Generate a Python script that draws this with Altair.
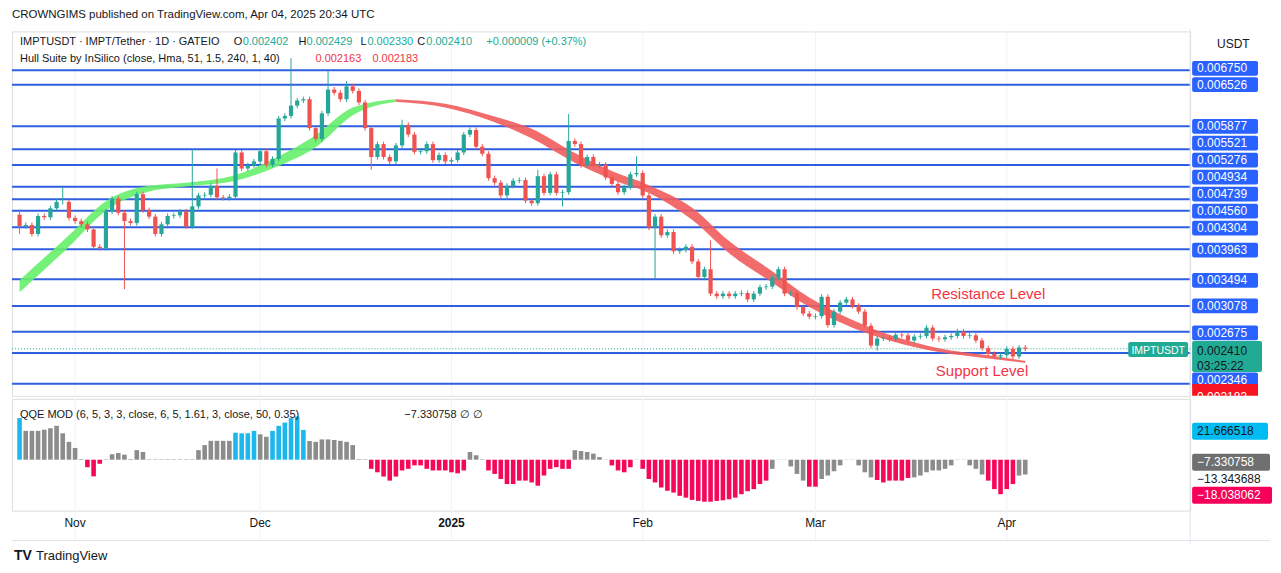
import pandas as pd
import altair as alt

FONT = "Liberation Sans"

# ---- daily candles, IMPTUSDT 1D (Oct 23 2024 -> Apr 4 2025)
dates = pd.date_range("2024-10-23", periods=164, freq="D")
first_open = 0.00450
closes = [
    0.00432, 0.00434, 0.00420, 0.00448, 0.00446, 0.00460, 0.00470, 0.00470, 0.00445, 0.00440,
    0.00435, 0.00427, 0.00400, 0.00398, 0.00455, 0.00475, 0.00453, 0.00440, 0.00437, 0.00482,
    0.00457, 0.00447, 0.00420, 0.00435, 0.00448, 0.00449, 0.00455, 0.00432, 0.00463, 0.00480,
    0.00481, 0.00495, 0.00477, 0.00476, 0.00478, 0.00547, 0.00522, 0.00527, 0.00533, 0.00549,
    0.00528, 0.00537, 0.00600, 0.00604, 0.00620, 0.00628, 0.00630, 0.00585, 0.00568, 0.00608,
    0.00645, 0.00640, 0.00630, 0.00650, 0.00643, 0.00625, 0.00585, 0.00540, 0.00560, 0.00540,
    0.00533, 0.00558, 0.00590, 0.00575, 0.00548, 0.00549, 0.00560, 0.00535, 0.00543, 0.00533,
    0.00535, 0.00547, 0.00575, 0.00582, 0.00556, 0.00545, 0.00507, 0.00500, 0.00480, 0.00495,
    0.00503, 0.00504, 0.00472, 0.00468, 0.00510, 0.00484, 0.00513, 0.00484, 0.00485, 0.00565,
    0.00560, 0.00527, 0.00540, 0.00527, 0.00528, 0.00508, 0.00498, 0.00485, 0.00493, 0.00513,
    0.00515, 0.00480, 0.00430, 0.00447, 0.00418, 0.00423, 0.00393, 0.00395, 0.00400, 0.00377,
    0.00353, 0.00365, 0.00327, 0.00323, 0.00327, 0.00323, 0.00327, 0.00328, 0.00318, 0.00327,
    0.00337, 0.00338, 0.00352, 0.00365, 0.00327, 0.00328, 0.00306, 0.00296, 0.00291, 0.00292,
    0.00322, 0.00278, 0.00299, 0.00313, 0.00318, 0.00308, 0.00299, 0.00277, 0.00246, 0.00257,
    0.00258, 0.00256, 0.00263, 0.00262, 0.00254, 0.00260, 0.00261, 0.00274, 0.00257, 0.00256,
    0.00259, 0.00261, 0.00268, 0.00261, 0.00262, 0.00254, 0.00242, 0.00233, 0.00229, 0.00231,
    0.00241, 0.00229, 0.00243, 0.00241,
]
# long wicks (candle index -> price)
wick_high = {0: 0.00458, 7: 0.00493, 28: 0.00552, 32: 0.00522, 44: 0.00694, 50: 0.00674,
             53: 0.00658, 89: 0.00607, 100: 0.00541, 112: 0.00410, 62: 0.00598, 84: 0.00520}
wick_low = {0: 0.00420, 17: 0.00334, 88: 0.00463, 103: 0.00350, 57: 0.00520, 139: 0.00238}
WICK = 0.00004

# ---- Hull Suite band (candle index, upper, lower)
hull_idx = [0, 8, 14, 21, 27, 35, 42, 48, 54, 61, 69, 77, 83, 90, 96, 102, 109, 115, 122, 128, 135, 141, 149, 157, 163]
hull_hi = [0.00348, 0.00418, 0.00471, 0.00495, 0.00500, 0.00512, 0.00541, 0.00574, 0.00617, 0.00630,
           0.00623, 0.00603, 0.00584, 0.00546, 0.00518, 0.00496, 0.00461, 0.00409, 0.00362, 0.00321,
           0.00286, 0.00263, 0.00242, 0.00231, 0.00222]
hull_lo = [0.00329, 0.00400, 0.00456, 0.00486, 0.00494, 0.00503, 0.00526, 0.00555, 0.00605, 0.00626,
           0.00617, 0.00594, 0.00569, 0.00531, 0.00505, 0.00484, 0.00442, 0.00390, 0.00344, 0.00306,
           0.00274, 0.00254, 0.00236, 0.00226, 0.00219]
hull_turn = 61

# ---- horizontal levels drawn by the author
level_prices = [0.006750, 0.006526, 0.005877, 0.005521, 0.005276, 0.004934, 0.004739, 0.004560,
                0.004304, 0.003963, 0.003494, 0.003078, 0.002675, 0.002346, 0.001864]
label_texts = ["0.006750", "0.006526", "0.005877", "0.005521", "0.005276", "0.004934", "0.004739",
               "0.004560", "0.004304", "0.003963", "0.003494", "0.003078", "0.002675", "0.002346"]
label_pos = [0.006780, 0.006526, 0.005877, 0.005614, 0.005349, 0.005085, 0.004820, 0.004556,
             0.004291, 0.003947, 0.003478, 0.003078, 0.002659, 0.001926]
last_price = 0.002410

# ---- QQE MOD histogram
qqe = [
    20.5, 14.2, 14.2, 14.2, 14.7, 15.5, 16.7, 13.0, 8.8, 5.8,
    0.3, -3.7, -8.2, -2.0, 0.2, 2.7, 3.3, 2.5, 0.3, 4.7,
    3.8, 0.2, 0.2, 0.2, 0.2, 0.2, 0.2, 0.2, 0.2, 4.7,
    7.2, 9.3, 9.3, 9.3, 9.3, 13.3, 13.0, 13.0, 14.2, 12.5,
    11.3, 14.2, 16.7, 18.3, 20.5, 21.3, 14.7, 9.2, 8.8, 10.0,
    10.0, 9.7, 9.3, 8.8, 7.2, 0.3, 0.2, -4.5, -6.2, -8.3,
    -10.3, -8.3, -5.3, -4.5, -2.8, -2.8, -4.5, -5.3, -5.3, -5.3,
    -6.2, -6.7, -5.3, 3.8, 2.2, 0.2, -5.3, -7.0, -9.5, -12.0,
    -12.0, -10.3, -10.3, -11.2, -12.8, -7.8, -4.5, -3.7, -4.5, -4.5,
    4.7, 4.3, 3.8, 3.0, 1.3, 0.1, -2.8, -5.3, -6.2, -3.7,
    0.1, -4.5, -9.5, -11.2, -13.7, -15.3, -16.2, -17.8, -18.7, -19.8,
    -20.3, -20.7, -20.7, -20.3, -20.0, -19.5, -18.7, -17.0, -15.5, -14.5,
    -12.0, -10.3, -4.5, 0.1, 0.1, -3.3, -7.0, -10.3, -13.3, -13.3,
    -9.5, -7.8, -5.7, -2.8, 0.1, 0.1, -2.8, -6.2, -8.7, -10.0,
    -11.2, -10.3, -10.3, -10.3, -9.0, -8.7, -7.8, -6.2, -5.3, -5.3,
    -4.5, -2.8, 0.1, 0.1, -2.8, -4.5, -7.3, -10.3, -14.5, -17.0,
    -14.5, -12.0, -7.8, -7.3,
]
qqe_blue = [0] + list(range(35, 39)) + list(range(41, 47))
qqe_red = (list(range(11, 14)) + list(range(57, 73)) + list(range(76, 90)) + list(range(96, 100))
           + list(range(101, 122)) + [128, 129] + list(range(139, 145)) + list(range(157, 162)))

month_ticks = ["2024-11-01", "2024-12-01", "2025-01-01", "2025-02-01", "2025-03-01", "2025-04-01"]
month_names = ["Nov", "Dec", "2025", "Feb", "Mar", "Apr"]

W, H, QH = 1180, 365, 112
PMIN, PMAX = 0.001677, 0.007357

# ---------------- build tables
opens = [first_open] + closes[:-1]
candles = pd.DataFrame({"date": dates, "open": opens, "close": closes})
candles["high"] = [wick_high.get(i, max(o, c) + WICK) for i, (o, c) in enumerate(zip(opens, closes))]
candles["low"] = [wick_low.get(i, min(o, c) - WICK) for i, (o, c) in enumerate(zip(opens, closes))]
candles["kind"] = ["up" if c >= o else "down" for o, c in zip(opens, closes)]

hull = pd.DataFrame({"date": dates[hull_idx], "hi": hull_hi, "lo": hull_lo, "i": hull_idx})
hull_green = hull[hull["i"] <= hull_turn]
hull_red = hull[hull["i"] >= hull_turn]

levels = pd.DataFrame({"price": level_prices})
labels = pd.DataFrame({"text": label_texts, "pos": label_pos})
labels["lo"] = labels["pos"] - 0.000115
labels["hi"] = labels["pos"] + 0.000115

q = pd.DataFrame({"date": dates, "v": qqe})
q["zero"] = 0.0
q["kind"] = ["b" if i in qqe_blue else ("r" if i in qqe_red else "g") for i in range(len(q))]

months = pd.DataFrame({"date": pd.to_datetime(month_ticks), "name": month_names})

xscale = alt.Scale(domain=[alt.DateTime(year=2024, month=10, date=22, hours=14),
                           alt.DateTime(year=2025, month=4, date=29, hours=22)])
yscale = alt.Scale(domain=[PMIN, PMAX], nice=False, zero=False)
X = alt.X("date:T", scale=xscale, axis=None)
one = alt.Data(values=[{}])
COL = alt.Color("kind:N", legend=None, scale=alt.Scale(
    domain=["up", "down", "b", "g", "r"], range=["#26a69a", "#ef5350", "#1bb8ee", "#8c8c8c", "#f5085a"]))


def txt(s, x, y, color="#131722", size=12, weight="normal", align="left"):
    return alt.Chart(one).mark_text(text=s, align=align, baseline="middle", font=FONT, fontSize=size,
                                    fontWeight=weight, color=color).encode(x=alt.value(x), y=alt.value(y))


def box(x1, x2, y1, y2, color):
    return alt.Chart(one).mark_rect(color=color, cornerRadius=2).encode(
        x=alt.value(x1), x2=alt.value(x2), y=alt.value(y1), y2=alt.value(y2))


# ---------------- price pane
grid_v = alt.Chart(months).mark_rule(color="#f0f3fa").encode(x=X)
lvl = alt.Chart(levels).mark_rule(color="#2f5fe0", strokeWidth=2).encode(
    y=alt.Y("price:Q", scale=yscale, axis=None), x=alt.value(0), x2=alt.value(W))
cur = alt.Chart(one).mark_rule(color="#22ab94", strokeDash=[1, 2]).encode(
    y=alt.datum(last_price, scale=yscale), x=alt.value(0), x2=alt.value(W))
hg = alt.Chart(hull_green).mark_area(color="#66f06b", opacity=0.9, interpolate="monotone").encode(
    x=X, y=alt.Y("hi:Q", scale=yscale), y2="lo:Q")
hr = alt.Chart(hull_red).mark_area(color="#f25c5c", opacity=0.9, interpolate="monotone").encode(
    x=X, y=alt.Y("hi:Q", scale=yscale), y2="lo:Q")
wicks = alt.Chart(candles).mark_rule(strokeWidth=1).encode(
    x=X, y=alt.Y("low:Q", scale=yscale), y2="high:Q", color=COL)
bodies = alt.Chart(candles).mark_bar(size=4.2).encode(
    x=X, y=alt.Y("open:Q", scale=yscale), y2="close:Q", color=COL)

ann = pd.DataFrame({"date": pd.to_datetime(["2025-03-29", "2025-03-28"]),
                    "price": [0.00327, 0.00206], "text": ["Resistance Level", "Support Level"]})
annot = alt.Chart(ann).mark_text(font=FONT, fontSize=15, color="#f23645").encode(
    x=X, y=alt.Y("price:Q", scale=yscale), text="text:N")

lab_box = alt.Chart(labels).mark_rect(color="#2962ff", cornerRadius=2).encode(
    y=alt.Y("lo:Q", scale=yscale), y2="hi:Q", x=alt.value(W + 2), x2=alt.value(W + 68))
lab_txt = alt.Chart(labels).mark_text(font=FONT, fontSize=12, color="white", align="left").encode(
    y=alt.Y("pos:Q", scale=yscale), x=alt.value(W + 7), text="text:N")

cur_box = alt.Chart(one).mark_rect(color="#22ab94", cornerRadius=2).encode(
    y=alt.datum(0.002533, scale=yscale), y2=alt.datum(0.002050), x=alt.value(W + 2), x2=alt.value(W + 72))
sym_box = alt.Chart(one).mark_rect(color="#22ab94", cornerRadius=2).encode(
    y=alt.datum(0.002517, scale=yscale), y2=alt.datum(0.002284), x=alt.value(W - 62), x2=alt.value(W - 2))
hull_box = alt.Chart(one).mark_rect(color="#f7131f").encode(
    y=alt.datum(0.001860, scale=yscale), y2=alt.datum(PMIN), x=alt.value(W + 2), x2=alt.value(W + 68))

right_line = alt.Chart(one).mark_rule(color="#e0e3eb").encode(
    x=alt.value(W), y=alt.value(-2), y2=alt.value(H + 148))

price = alt.layer(
    grid_v, lvl, cur, hg, hr, wicks, bodies, annot, right_line,
    lab_box, lab_txt, cur_box, sym_box, hull_box,
    txt("0.002410", W + 7, 320), txt("03:25:22", W + 7, 335),
    txt("IMPTUSDT", W - 32, 320, color="white", size=10.5, align="center"),
    txt("0.002183", W + 7, 366, color="white"),
    txt("USDT", W + 27, 13),
    txt("CROWNGIMS published on TradingView.com, Apr 04, 2025 20:34 UTC", 0, -16, size=11.5),
    txt("IMPTUSDT · IMPT/Tether · 1D · GATEIO", 8, 11, size=11),
    txt("O", 222, 11, size=11), txt("0.002402", 231, 11, color="#22ab94", size=11),
    txt("H", 287, 11, size=11), txt("0.002429", 295, 11, color="#22ab94", size=11),
    txt("L", 349, 11, size=11), txt("0.002330", 356, 11, color="#22ab94", size=11),
    txt("C", 406, 11, size=11), txt("0.002410", 415, 11, color="#22ab94", size=11),
    txt("+0.000009 (+0.37%)", 475, 11, color="#22ab94", size=11),
    txt("Hull Suite by InSilico (close, Hma, 51, 1.5, 240, 1, 40)", 8, 28, size=11),
    txt("0.002163", 304, 28, color="#f23645", size=11), txt("0.002183", 361, 28, color="#f23645", size=11),
).properties(width=W, height=H)

# ---------------- QQE pane
QS = alt.Scale(domain=[-25.1, 30], nice=False)
qgrid = alt.Chart(months).mark_rule(color="#f0f3fa").encode(x=X, y=alt.value(0), y2=alt.value(QH + 30))
qbars = alt.Chart(q).mark_bar(size=4.6).encode(
    x=X, y=alt.Y("v:Q", scale=QS, axis=None), y2="zero:Q", color=COL)
mlabels = alt.Chart(months).mark_text(font=FONT, fontSize=12, color="#131722", baseline="middle").transform_filter(
    "datum.name != '2025'").encode(x=X, y=alt.value(QH + 12), text="name:N")
mbold = alt.Chart(months).mark_text(font=FONT, fontSize=12, fontWeight="bold", color="#131722",
                                    baseline="middle").transform_filter("datum.name == '2025'").encode(
    x=X, y=alt.value(QH + 12), text="name:N")
qqe_chart = alt.layer(
    qgrid, qbars, mlabels, mbold,
    alt.Chart(one).mark_rule(color="#e0e3eb").encode(x=alt.value(0), x2=alt.value(W + 80), y=alt.value(QH + 30)),
    txt("QQE MOD (6, 5, 3, 3, close, 6, 5, 1.61, 3, close, 50, 0.35)", 8, 16, size=11),
    txt("−7.330758   ∅   ∅", 393, 16, size=11),
    box(W + 2, W + 78, 24, 41, "#00bcf2"), txt("21.666518", W + 7, 32.5),
    box(W + 2, W + 80, 55, 72, "#6f6f6f"), txt("−7.330758", W + 7, 63.5, color="white"),
    txt("−13.343688", W + 7, 80),
    box(W + 2, W + 82, 88, 105, "#f7005a"), txt("−18.038062", W + 7, 96.5, color="white"),
    txt("TV", 2, 157, size=14, weight="bold"),
    txt("TradingView", 24, 157, size=13),
).properties(width=W, height=QH)

chart = alt.vconcat(price, qqe_chart, spacing=3, bounds="flush").properties(
    padding={"left": 2, "top": 0, "right": 0, "bottom": 0}
).configure_view(stroke="#e0e3eb").configure(background="white")

chart.save("out.html", embed_options={"renderer": "svg", "actions": False})
